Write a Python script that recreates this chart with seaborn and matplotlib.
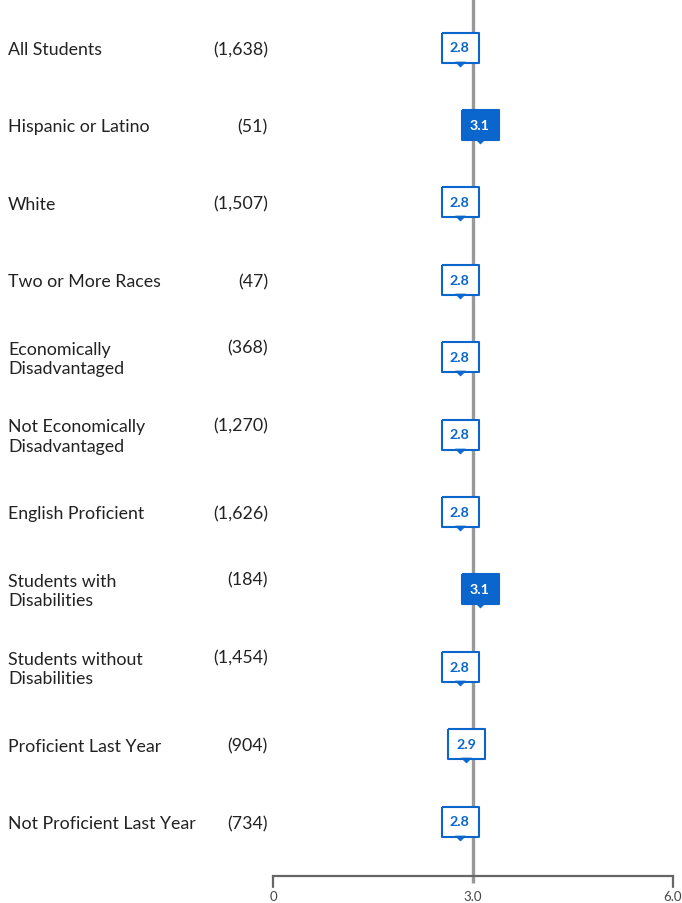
import matplotlib
matplotlib.use("Agg")
import matplotlib.pyplot as plt
import matplotlib.transforms as mtransforms
import seaborn as sns
import pandas as pd
import numpy as np

# ---- data ----
groups = ["All Students", "Hispanic or Latino", "White", "Two or More Races",
          "Economically\nDisadvantaged", "Not Economically\nDisadvantaged",
          "English Proficient", "Students with\nDisabilities",
          "Students without\nDisabilities", "Proficient Last Year",
          "Not Proficient Last Year"]
counts = ["(1,638)", "(51)", "(1,507)", "(47)", "(368)", "(1,270)",
          "(1,626)", "(184)", "(1,454)", "(904)", "(734)"]
values = [2.8, 3.1, 2.8, 2.8, 2.8, 2.8, 2.8, 3.1, 2.8, 2.9, 2.8]
highlight = [False, True, False, False, False, False, False, True, False, False, False]
tick_values = [0, 3.0, 6.0]
tick_labels = ["0", "3.0", "6.0"]
reference_value = 3.0

BLUE = "#0a66cc"
GRAY = "#999999"
AXIS = "#666666"
FONT = "Lato"

sns.set_theme(style="white")
plt.rcParams["font.family"] = [FONT, "DejaVu Sans"]

df = pd.DataFrame({"group": groups, "count": counts, "value": values,
                   "highlight": highlight, "row": np.arange(len(groups))})

W, H, DPI = 682, 904, 100
fig = plt.figure(figsize=(W / DPI, H / DPI), dpi=DPI)
ax = fig.add_axes([0, 0, 1, 1])

# pixel -> data mapping: x 0 at px 273, 6 at px 673 ; rows at 48 + 77.4*i
px_per_unit = 400 / 6.0
x0_px = 273
ax.set_xlim(-x0_px / px_per_unit, (W - x0_px) / px_per_unit)
row0_px, row_step = 48.5, 77.4
ax.set_ylim(len(groups) - 1 + (H - (row0_px + row_step * (len(groups) - 1))) / row_step,
            -row0_px / row_step)
ax.axis("off")

def py(px):
    return (px - row0_px) / row_step

# reference line
ax.plot([reference_value, reference_value], [py(0), py(884)],
        color=GRAY, lw=2.4, solid_capstyle="butt", zorder=1)

# bottom axis
ax.plot([tick_values[0], tick_values[-1]], [py(877), py(877)], color=AXIS, lw=1.6,
        solid_capstyle="projecting", zorder=2)
for tv, tl in zip(tick_values, tick_labels):
    if tv != reference_value:
        ax.plot([tv, tv], [py(877), py(888)], color=AXIS, lw=1.6, zorder=2)
    ax.text(tv, py(903), tl, ha="center", va="bottom",
            fontsize=9.5, color="#444444")

# callout markers
hw, hh = 17.0, 13.5     # half width / height of box (px, on stroke centre)
tip, phw = 18.5, 5.0    # pointer tip depth and half-width
scale = max(hw, hh, tip)
box_marker = [(-hw, hh), (hw, hh), (hw, -hh), (-hw, -hh), (-hw, hh)]
ptr_marker = [(-phw, -hh), (phw, -hh), (0, -tip), (-phw, -hh)]
msize_pt = 2 * scale * 72 / DPI
s = msize_pt ** 2

for hl in [False, True]:
    sub = df[df["highlight"] == hl]
    sns.scatterplot(data=sub, x="value", y="row", ax=ax, marker=box_marker, s=s,
                    color=BLUE if hl else "white", edgecolor=BLUE,
                    linewidth=1.5, zorder=4, legend=False)
sns.scatterplot(data=df, x="value", y="row", ax=ax, marker=ptr_marker, s=s,
                color=BLUE, edgecolor=BLUE, linewidth=0.5, zorder=5, legend=False)

for _, r in df.iterrows():
    ax.text(r["value"], r["row"], f"{r['value']:.1f}", ha="center", va="center",
            fontsize=10.3, fontweight="bold",
            color="white" if r["highlight"] else BLUE, zorder=6)

# row labels
tr = mtransforms.blended_transform_factory(ax.transAxes, ax.transData)
LS = 12.8
for _, r in df.iterrows():
    two = "\n" in r["group"]
    lab_tr = mtransforms.offset_copy(tr, fig=fig, y=-1.5, units="dots")
    ax.text(8 / W, r["row"], r["group"], transform=lab_tr, ha="left", va="center",
            fontsize=LS, color="#222222", linespacing=1.25)
    off = mtransforms.offset_copy(tr, fig=fig, y=9.5 if two else -1.5, units="dots")
    ax.text(268 / W, r["row"], r["count"], transform=off, ha="right", va="center",
            fontsize=LS, color="#222222")

fig.savefig("out.png", dpi=DPI)
